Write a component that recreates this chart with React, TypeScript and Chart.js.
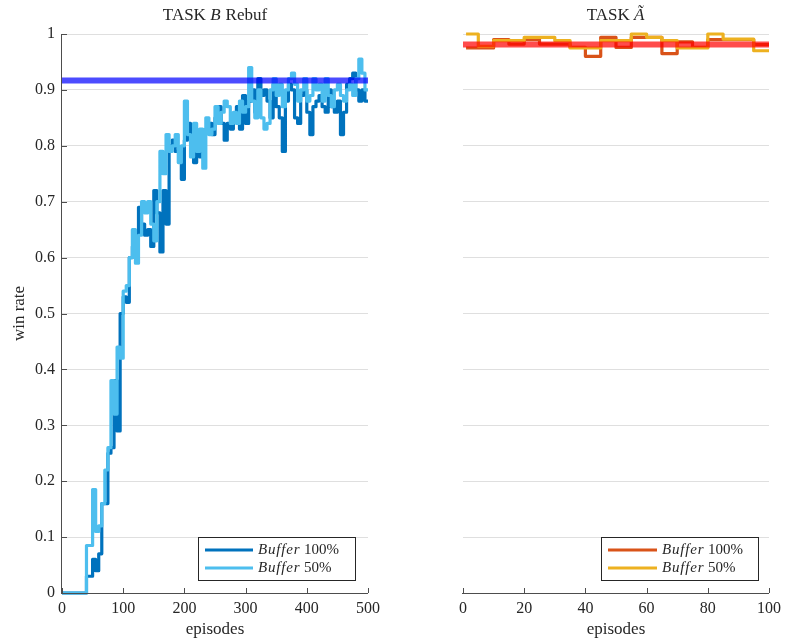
import React, { useEffect, useRef } from 'react';
import { Chart, registerables } from 'chart.js';

Chart.register(...registerables);

// ---------------- data ----------------
const leftEpisodes = [
  0, 5, 10, 15, 20, 25, 30, 35, 40, 45, 50, 55, 60, 65, 70, 75, 80, 85, 90, 95,
  100, 105, 110, 115, 120, 125, 130, 135, 140, 145, 150, 155, 160, 165, 170, 175, 180, 185, 190, 195,
  200, 205, 210, 215, 220, 225, 230, 235, 240, 245, 250, 255, 260, 265, 270, 275, 280, 285, 290, 295,
  300, 305, 310, 315, 320, 325, 330, 335, 340, 345, 350, 355, 360, 365, 370, 375, 380, 385, 390, 395,
  400, 405, 410, 415, 420, 425, 430, 435, 440, 445, 450, 455, 460, 465, 470, 475, 480, 485, 490, 495,
  500,
];

const leftBuffer100 = [
  0, 0, 0, 0, 0, 0, 0, 0, 0.03, 0.03, 0.06, 0.04, 0.07, 0.16, 0.16, 0.25, 0.26, 0.38, 0.29, 0.5,
  0.53, 0.52, 0.6, 0.62, 0.64, 0.69, 0.66, 0.64, 0.65, 0.62, 0.72, 0.68, 0.61, 0.72, 0.66, 0.8, 0.81, 0.79, 0.79, 0.74,
  0.81, 0.84, 0.82, 0.77, 0.81, 0.78, 0.82, 0.83, 0.84, 0.82, 0.85, 0.87, 0.84, 0.81, 0.84, 0.83, 0.85, 0.87, 0.83, 0.89,
  0.84, 0.88, 0.9, 0.86, 0.92, 0.89, 0.9, 0.88, 0.85, 0.91, 0.87, 0.85, 0.79, 0.88, 0.91, 0.9, 0.85, 0.84, 0.89, 0.9,
  0.86, 0.82, 0.87, 0.88, 0.89, 0.87, 0.86, 0.9, 0.87, 0.86, 0.88, 0.82, 0.86, 0.91, 0.92, 0.93, 0.9, 0.88, 0.9, 0.88,
  0.88,
];

const leftBuffer50 = [
  0, 0, 0, 0, 0, 0, 0, 0, 0.085, 0.085, 0.185, 0.11, 0.12, 0.16, 0.22, 0.26, 0.38, 0.32, 0.44, 0.42,
  0.54, 0.55, 0.6, 0.65, 0.59, 0.64, 0.7, 0.68, 0.7, 0.66, 0.63, 0.7, 0.79, 0.75, 0.82, 0.79, 0.8, 0.82, 0.77, 0.8,
  0.88, 0.82, 0.78, 0.84, 0.79, 0.83, 0.76, 0.85, 0.82, 0.83, 0.87, 0.84, 0.86, 0.88, 0.87, 0.84, 0.86, 0.84, 0.88, 0.86,
  0.87, 0.94, 0.88, 0.85, 0.9, 0.85, 0.83, 0.84, 0.9, 0.92, 0.89, 0.91, 0.87, 0.9, 0.92, 0.93, 0.91, 0.88, 0.9, 0.92,
  0.88, 0.89, 0.92, 0.9, 0.91, 0.88, 0.92, 0.89, 0.87, 0.9, 0.91, 0.89, 0.88, 0.9, 0.91, 0.89, 0.92, 0.955, 0.93, 0.9,
  0.9,
];

const leftReferenceX = [0, 500];
const leftReferenceY = [0.917, 0.917];

const rightEpisodes = [1, 5, 10, 15, 20, 25, 30, 35, 40, 45, 50, 55, 60, 65, 70, 75, 80, 85, 90, 95, 100];

const rightBuffer100 = [
  0.975, 0.975, 0.99, 0.982, 0.99, 0.982, 0.982, 0.976, 0.96, 0.994, 0.976,
  0.994, 0.994, 0.965, 0.986, 0.976, 0.99, 0.99, 0.99, 0.981, 0.981,
];

const rightBuffer50 = [
  1.0, 0.978, 0.988, 0.988, 0.994, 0.994, 0.988, 0.975, 0.975, 0.988, 0.988,
  1.0, 0.994, 0.988, 0.975, 0.975, 1.0, 0.991, 0.991, 0.97, 0.97,
];

const rightReferenceX = [0, 100];
const rightReferenceY = [0.981, 0.981];

const leftXTicks = [0, 100, 200, 300, 400, 500];
const rightXTicks = [0, 20, 40, 60, 80, 100];
const yTicks = [0, 0.1, 0.2, 0.3, 0.4, 0.5, 0.6, 0.7, 0.8, 0.9, 1];

// ---------------- styles ----------------
const FONT = "'Liberation Serif', 'DejaVu Serif', serif";
const TEXT = '#262626';
const AXIS = '#4d4d4d';
const GRID = '#dfdfdf';
const C_DARK = '#0072BD';
const C_LIGHT = '#4DBEEE';
const C_ORANGE = '#D95319';
const C_YELLOW = '#EDB120';

type Part = { t: string; i?: boolean };

function drawParts(
  ctx: CanvasRenderingContext2D,
  parts: Part[],
  x: number,
  y: number,
  size: number,
  align: 'left' | 'center'
) {
  const widths = parts.map((p) => {
    ctx.font = `${p.i ? 'italic ' : ''}${size}px ${FONT}`;
    (ctx as any).letterSpacing = p.i ? '0.8px' : '0px';
    return ctx.measureText(p.t).width;
  });
  const total = widths.reduce((a, b) => a + b, 0);
  let cx = align === 'center' ? x - total / 2 : x;
  ctx.textBaseline = 'middle';
  ctx.textAlign = 'left';
  parts.forEach((p, k) => {
    ctx.font = `${p.i ? 'italic ' : ''}${size}px ${FONT}`;
    (ctx as any).letterSpacing = p.i ? '0.8px' : '0px';
    ctx.fillText(p.t, cx, y);
    cx += widths[k];
  });
  (ctx as any).letterSpacing = '0px';
}

interface DecorCfg {
  title: Part[];
  xTicks: number[];
  showYAxis: boolean;
  yLabel?: string;
  legend: { box: [number, number, number, number]; lineX: [number, number]; textX: number; colors: string[] };
}

function decorPlugin(cfg: DecorCfg) {
  return {
    id: 'decor',
    afterDraw(chart: any) {
      const { ctx, chartArea: a, scales } = chart;
      ctx.save();
      // axes
      ctx.strokeStyle = AXIS;
      ctx.lineWidth = 1;
      ctx.beginPath();
      ctx.moveTo(a.left - 1, Math.round(a.bottom) + 0.5);
      ctx.lineTo(a.right, Math.round(a.bottom) + 0.5);
      for (const v of cfg.xTicks) {
        const px = Math.round(scales.x.getPixelForValue(v)) + 0.5;
        ctx.moveTo(px, a.bottom);
        ctx.lineTo(px, a.bottom - 5);
      }
      if (cfg.showYAxis) {
        ctx.moveTo(Math.round(a.left) - 0.5, a.top);
        ctx.lineTo(Math.round(a.left) - 0.5, a.bottom + 1);
        for (const v of yTicks) {
          const py = Math.round(scales.y.getPixelForValue(v)) + 0.5;
          ctx.moveTo(a.left, py);
          ctx.lineTo(a.left + 5, py);
        }
      }
      ctx.stroke();

      ctx.fillStyle = TEXT;
      const cx = (a.left + a.right) / 2;
      // title
      drawParts(ctx, cfg.title, cx, 16, 17, 'center');
      // x label
      drawParts(ctx, [{ t: 'episodes' }], cx, 630, 17, 'center');
      // y label
      if (cfg.yLabel) {
        ctx.save();
        ctx.translate(20, (a.top + a.bottom) / 2);
        ctx.rotate(-Math.PI / 2);
        drawParts(ctx, [{ t: cfg.yLabel }], 0, 0, 17, 'center');
        ctx.restore();
      }
      // legend
      const [bx0, by0, bx1, by1] = cfg.legend.box;
      ctx.fillStyle = '#ffffff';
      ctx.fillRect(bx0, by0, bx1 - bx0, by1 - by0);
      ctx.strokeStyle = TEXT;
      ctx.lineWidth = 1;
      ctx.strokeRect(bx0 + 0.5, by0 + 0.5, bx1 - bx0, by1 - by0);
      const rows = [
        [{ t: 'Buffer', i: true }, { t: ' 100%' }],
        [{ t: 'Buffer', i: true }, { t: ' 50%' }],
      ];
      const ys = [by0 + 13, by0 + 31];
      rows.forEach((r, k) => {
        ctx.strokeStyle = cfg.legend.colors[k];
        ctx.lineWidth = 3;
        ctx.beginPath();
        ctx.moveTo(cfg.legend.lineX[0], ys[k]);
        ctx.lineTo(cfg.legend.lineX[1], ys[k]);
        ctx.stroke();
        ctx.fillStyle = TEXT;
        drawParts(ctx, r, cfg.legend.textX, ys[k], 15, 'left');
      });
      ctx.restore();
    },
  };
}

function pts(xs: number[], ys: number[]) {
  return xs.map((x, k) => ({ x, y: ys[k] }));
}

function buildConfig(opts: {
  xs: number[];
  a: number[];
  b: number[];
  refX: number[];
  refY: number[];
  colA: string;
  colB: string;
  refColor: string;
  xMax: number;
  xStep: number;
  yAxisWidth: number;
  padRight: number;
  showYTicks: boolean;
  decor: DecorCfg;
}): any {
  const line = (data: any[], color: string, width: number, stepped: boolean) => ({
    data,
    borderColor: color,
    backgroundColor: color,
    borderWidth: width,
    pointRadius: 0,
    stepped,
    fill: false,
    tension: 0,
    borderJoinStyle: 'round',
    borderCapStyle: 'butt',
    clip: 6,
  });
  return {
    type: 'line',
    data: {
      datasets: [
        line(pts(opts.refX, opts.refY), opts.refColor, 6, false),
        line(pts(opts.xs, opts.b), opts.colB, 3.2, true),
        line(pts(opts.xs, opts.a), opts.colA, 3.2, true),
      ],
    },
    options: {
      animation: false,
      responsive: false,
      devicePixelRatio: 1,
      layout: { padding: { top: 34, right: opts.padRight, left: 0, bottom: 0 } },
      plugins: { legend: { display: false }, title: { display: false }, tooltip: { enabled: false } },
      scales: {
        x: {
          type: 'linear',
          min: 0,
          max: opts.xMax,
          grid: { display: false, drawTicks: false },
          border: { display: false },
          ticks: { stepSize: opts.xStep, color: TEXT, font: { family: FONT, size: 16 }, padding: 6, maxRotation: 0 },
          afterFit: (s: any) => {
            s.height = 50;
          },
        },
        y: {
          min: 0,
          max: 1,
          grid: { color: GRID, drawTicks: false, lineWidth: 1 },
          border: { display: false },
          ticks: {
            display: opts.showYTicks,
            stepSize: 0.1,
            color: TEXT,
            font: { family: FONT, size: 16 },
            padding: 7,
            callback: (v: number) => String(Math.round(v * 10) / 10),
          },
          afterFit: (s: any) => {
            s.width = opts.yAxisWidth;
          },
        },
      },
    },
    plugins: [decorPlugin(opts.decor)],
  };
}

export default function App() {
  const leftRef = useRef<HTMLCanvasElement>(null);
  const rightRef = useRef<HTMLCanvasElement>(null);

  useEffect(() => {
    const c1 = new Chart(
      leftRef.current!,
      buildConfig({
        xs: leftEpisodes,
        a: leftBuffer100,
        b: leftBuffer50,
        refX: leftReferenceX,
        refY: leftReferenceY,
        colA: C_DARK,
        colB: C_LIGHT,
        refColor: 'rgba(0,0,255,0.7)',
        xMax: 500,
        xStep: 100,
        yAxisWidth: 62,
        padRight: 22,
        showYTicks: true,
        decor: {
          title: [{ t: 'TASK ' }, { t: 'B', i: true }, { t: ' Rebuf' }],
          xTicks: leftXTicks,
          showYAxis: true,
          yLabel: 'win rate',
          legend: { box: [198, 537, 355, 580], lineX: [205, 253], textX: 258, colors: [C_DARK, C_LIGHT] },
        },
      })
    );
    const c2 = new Chart(
      rightRef.current!,
      buildConfig({
        xs: rightEpisodes,
        a: rightBuffer100,
        b: rightBuffer50,
        refX: rightReferenceX,
        refY: rightReferenceY,
        colA: C_ORANGE,
        colB: C_YELLOW,
        refColor: 'rgba(255,0,0,0.7)',
        xMax: 100,
        xStep: 20,
        yAxisWidth: 63,
        padRight: 18,
        showYTicks: false,
        decor: {
          title: [{ t: 'TASK ' }, { t: 'Ã', i: true }],
          xTicks: rightXTicks,
          showYAxis: false,
          legend: { box: [201, 537, 358, 580], lineX: [208, 257], textX: 262, colors: [C_ORANGE, C_YELLOW] },
        },
      })
    );
    return () => {
      c1.destroy();
      c2.destroy();
    };
  }, []);

  return (
    <div
      style={{
        position: 'absolute',
        left: 0,
        top: 0,
        width: 787,
        height: 643,
        background: '#ffffff',
        overflow: 'hidden',
      }}
    >
      <canvas ref={leftRef} width={390} height={643} style={{ position: 'absolute', left: 0, top: 0 }} />
      <canvas ref={rightRef} width={387} height={643} style={{ position: 'absolute', left: 400, top: 0 }} />
    </div>
  );
}
